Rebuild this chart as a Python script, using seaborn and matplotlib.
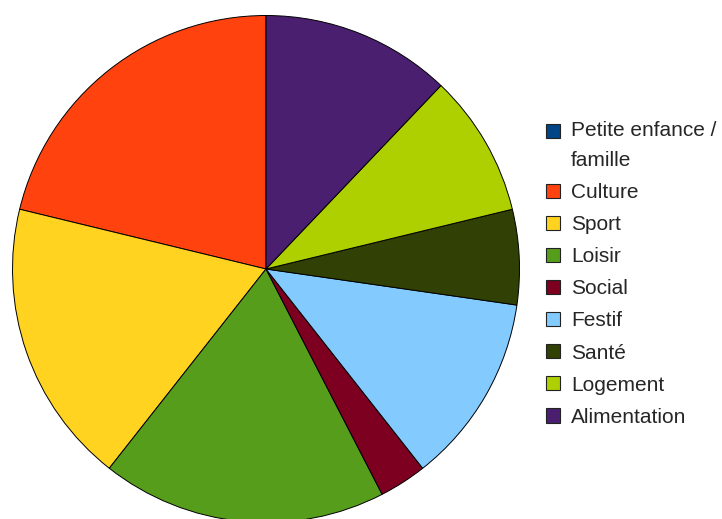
import matplotlib
matplotlib.use("Agg")
from matplotlib import pyplot as plt
from matplotlib import patches as mpatches
from matplotlib.legend_handler import HandlerPatch
import seaborn as sns

# Share of activities per category
categories = ["Petite enfance /\nfamille", "Culture", "Sport", "Loisir", "Social",
              "Festif", "Santé", "Logement", "Alimentation"]
values = [0, 7, 6, 6, 1, 4, 2, 3, 4]
colors = ["#004586", "#ff420e", "#ffd320", "#579d1c", "#7e0021",
          "#83caff", "#314004", "#aecf00", "#4b1f6f"]

sns.set_theme(style="white")
plt.rcParams['font.family'] = ['Liberation Sans', 'DejaVu Sans']

fig = plt.figure(figsize=(7.22, 5.19), dpi=100)
# pie centre ~ (266, 269) px, radius ~ 254 px
ax = fig.add_axes([(266 - 254) / 722, (519 - 269 - 254) / 519, 508 / 722, 508 / 519])

wedges, _ = ax.pie(values, colors=colors, startangle=90, counterclock=True, radius=1,
                   wedgeprops=dict(edgecolor="black", linewidth=0.7))
ax.set_xlim(-1.002, 1.002)
ax.set_ylim(-1.002, 1.002)
ax.set_aspect("equal")
ax.axis("off")


# the two-line label keeps its square next to the first line
def raised_square(legend, orig_handle, xdescent, ydescent, width, height, fontsize):
    return mpatches.Rectangle((-xdescent, -ydescent + 10.8), width, height)


leg = fig.legend(wedges, categories, loc="upper left",
                 bbox_to_anchor=(546 / 722, 1 - 121 / 519),
                 frameon=False, fontsize=15, borderpad=0, borderaxespad=0,
                 handlelength=0.66, handleheight=0.66, handletextpad=0.55,
                 labelspacing=0.63,
                 handler_map={wedges[0]: HandlerPatch(patch_func=raised_square)})
for t in leg.get_texts():
    t.set_linespacing(1.72)
for h in leg.legend_handles:
    h.set_edgecolor("#222222")
    h.set_linewidth(0.8)

plt.savefig("out.png", dpi=100)
